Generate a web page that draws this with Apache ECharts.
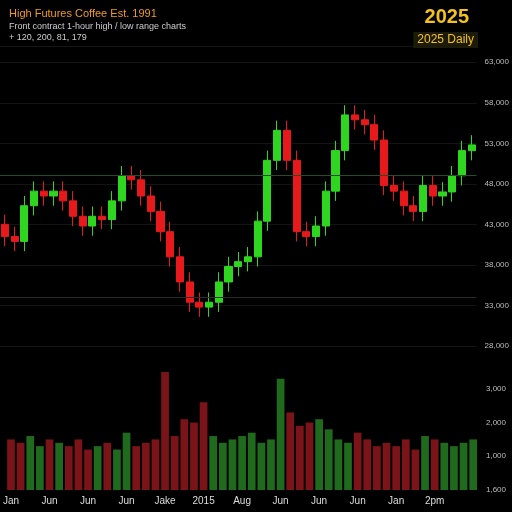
<!DOCTYPE html><html><head><meta charset="utf-8"><script src="https://cdn.jsdelivr.net/npm/echarts@6/dist/echarts.min.js"></script>
<style>html,body{margin:0;background:#000}#c{width:512px;height:512px}</style></head><body><div id="c"></div><script>
const closes=[41.5,40.9,45.3,47.1,46.5,47.1,45.9,44,42.8,44,43.6,45.9,49,48.5,46.5,44.6,42.1,39,35.9,33.4,32.8,33.4,35.9,37.8,38.4,39,43.4,50.9,54.6,50.9,42.1,41.5,42.8,47.1,52.1,56.5,55.9,55.3,53.4,47.8,47.1,45.3,44.6,47.8,46.5,47,49,52.1,52.8];
const volumes=[1500,1400,1600,1300,1500,1400,1300,1500,1200,1300,1400,1200,1700,1300,1400,1500,3700,1600,2100,2000,2600,1600,1400,1500,1600,1700,1400,1500,3300,2300,1900,2000,2100,1800,1500,1400,1700,1500,1300,1400,1300,1500,1200,1600,1500,1400,1300,1400,1500];
const xLabels=['Jan','Jun','Jun','Jun','Jake','2015','Aug','Jun','Jun','Jun','Jan','2pm'];
const opens=closes.map((c,i)=>i?closes[i-1]:43);
const cats=closes.map((c,i)=>(i%4===0&&xLabels[i/4])?xLabels[i/4]:'');
const ohlc=closes.map((c,i)=>{const o=opens[i];return [o,c,Math.min(o,c)-1.2,Math.max(o,c)+1.2];});
const up='#2fd61f',dn='#e8191b';
const ch=echarts.init(document.getElementById('c'));
ch.setOption({backgroundColor:'#000',animation:false,
title:[{text:'High Futures Coffee Est. 1991',left:4,top:3,textStyle:{color:'#f29a1e',fontSize:11,fontWeight:'normal'},subtext:'Front contract 1-hour high / low range charts\n+ 120, 200, 81, 179',subtextStyle:{color:'#ccc',fontSize:9,lineHeight:11},itemGap:2},
{text:'2025',right:38,top:2,textStyle:{color:'#f3c21c',fontSize:20,fontWeight:'bold'}},
{text:'2025 Daily',right:34,top:32,backgroundColor:'#1c1a08',padding:[2,4],textStyle:{color:'#f3c21c',fontSize:12,fontWeight:'normal'}}],
grid:[{left:0,right:34,top:46,height:300},{left:0,right:34,top:372,height:118}],
xAxis:[{type:'category',data:cats,gridIndex:0,axisLabel:{show:false},axisTick:{show:false},axisLine:{show:false}},
{type:'category',data:cats,gridIndex:1,axisTick:{show:false},axisLine:{show:false},axisLabel:{color:'#ddd',fontSize:10,interval:0,margin:6}}],
yAxis:[{gridIndex:0,position:'right',min:28,max:65,interval:5,splitLine:{lineStyle:{color:'#141414'}},axisLabel:{color:'#bbb',fontSize:8,showMaxLabel:false,formatter:v=>v+',000'}},
{gridIndex:1,position:'right',min:0,max:3500,interval:1000,splitLine:{show:false},axisLabel:{color:'#bbb',fontSize:8,showMaxLabel:false,formatter:v=>v?v/1000+',000':'1,600'}}],
series:[{type:'candlestick',data:ohlc,barWidth:'78%',itemStyle:{color:up,color0:dn,borderColor:up,borderColor0:dn},
markLine:{symbol:'none',label:{show:false},silent:true,data:[{yAxis:49,lineStyle:{color:'#2a4a2a',type:'solid',width:1}},{yAxis:34,lineStyle:{color:'#2a2a2a',type:'solid',width:1}}]}},
{type:'bar',xAxisIndex:1,yAxisIndex:1,data:volumes.map((v,i)=>({value:v,itemStyle:{color:closes[i]>=opens[i]?'#1f6a1c':'#7a1418'}})),barWidth:'80%'}]});
</script></body></html>
